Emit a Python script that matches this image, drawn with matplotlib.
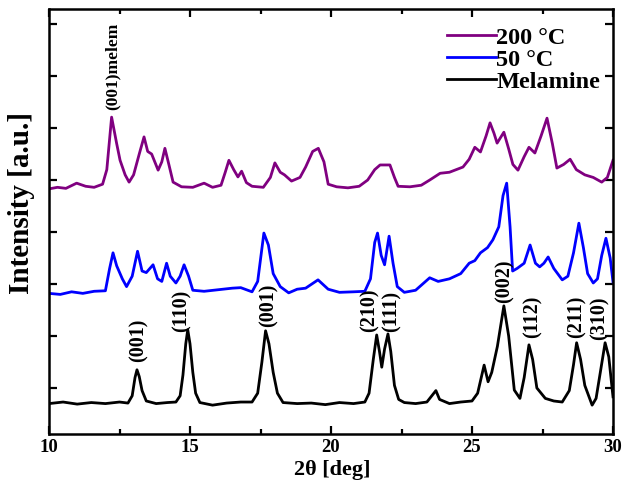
from __future__ import annotations

import matplotlib

matplotlib.use("Agg")
import matplotlib.pyplot as plt
from matplotlib.ticker import MultipleLocator

# XRD patterns (2theta in deg, intensity in tick units)
melamine_2theta = [
    10.0, 10.5, 11.0, 11.5, 12.0, 12.5, 12.8, 12.95, 13.05, 13.12, 13.2, 13.3, 13.45,
    13.8, 14.2, 14.5, 14.65, 14.75, 14.85, 14.92, 15.0, 15.1, 15.2, 15.35, 15.8, 16.3,
    16.8, 17.2, 17.4, 17.55, 17.68, 17.8, 17.95, 18.1, 18.3, 18.8, 19.3, 19.8, 20.3,
    20.8, 21.2, 21.35, 21.5, 21.62, 21.72, 21.8, 21.9, 22.02, 22.12, 22.25, 22.4, 22.6,
    23.0, 23.4, 23.72, 23.85, 24.2, 24.6, 25.0, 25.2, 25.43, 25.57, 25.7, 25.9, 26.13,
    26.3, 26.5, 26.7, 26.85, 27.02, 27.15, 27.3, 27.6, 27.9, 28.2, 28.45, 28.6, 28.71,
    28.85, 29.0, 29.26, 29.4, 29.55, 29.72, 29.85, 30.0,
]
melamine_int = [
    -0.30, -0.27, -0.31, -0.28, -0.30, -0.27, -0.29, -0.15, 0.20, 0.35, 0.22, -0.05, -0.25,
    -0.30, -0.28, -0.27, -0.15, 0.25, 0.85, 1.12, 0.85, 0.30, -0.10, -0.28, -0.33, -0.29,
    -0.27, -0.27, -0.10, 0.50, 1.10, 0.85, 0.30, -0.10, -0.28, -0.30, -0.29, -0.32, -0.28,
    -0.30, -0.27, -0.10, 0.55, 1.02, 0.70, 0.40, 0.75, 1.04, 0.70, 0.05, -0.22, -0.28,
    -0.30, -0.27, -0.05, -0.22, -0.30, -0.27, -0.25, -0.10, 0.44, 0.12, 0.30, 0.80, 1.58,
    1.00, -0.04, -0.20, 0.20, 0.83, 0.55, 0.00, -0.20, -0.25, -0.27, -0.05, 0.45, 0.87,
    0.55, 0.05, -0.33, -0.20, 0.30, 0.87, 0.60, -0.17,
]

c50_2theta = [
    10.0, 10.4, 10.8, 11.2, 11.6, 12.0, 12.15, 12.27, 12.4, 12.6, 12.75, 12.95, 13.14,
    13.3, 13.45, 13.69, 13.85, 14.0, 14.17, 14.3, 14.5, 14.65, 14.79, 14.95, 15.1, 15.5,
    16.0, 16.5, 16.8, 17.2, 17.4, 17.62, 17.78, 17.95, 18.2, 18.5, 18.8, 19.1, 19.54,
    19.9, 20.3, 20.8, 21.2, 21.4, 21.55, 21.65, 21.78, 21.9, 22.06, 22.2, 22.35, 22.6,
    23.0, 23.5, 23.8, 24.2, 24.6, 24.9, 25.1, 25.3, 25.55, 25.74, 25.95, 26.1, 26.23,
    26.35, 26.44, 26.6, 26.85, 27.06, 27.25, 27.4, 27.55, 27.7, 27.9, 28.2, 28.4, 28.6,
    28.79, 28.95, 29.1, 29.3, 29.45, 29.6, 29.75, 29.9, 30.0,
]
c50_int = [
    1.82, 1.80, 1.85, 1.82, 1.86, 1.87, 2.30, 2.60, 2.35, 2.10, 1.95, 2.15, 2.63,
    2.25, 2.22, 2.37, 2.10, 2.05, 2.40, 2.15, 2.02, 2.15, 2.37, 2.15, 1.88, 1.86,
    1.89, 1.92, 1.93, 1.85, 2.05, 2.98, 2.75, 2.20, 1.95, 1.83, 1.90, 1.92, 2.08,
    1.90, 1.84, 1.85, 1.86, 2.10, 2.80, 2.98, 2.55, 2.37, 2.92, 2.40, 1.95, 1.84,
    1.88, 2.12, 2.05, 2.10, 2.20, 2.40, 2.45, 2.60, 2.70, 2.85, 3.10, 3.70, 3.94,
    3.10, 2.25, 2.30, 2.40, 2.75, 2.40, 2.33, 2.40, 2.52, 2.30, 2.08, 2.15, 2.60,
    3.17, 2.70, 2.20, 2.02, 2.10, 2.55, 2.88, 2.50, 2.04,
]

c200_2theta = [
    10.0, 10.3, 10.6, 10.98, 11.3, 11.6, 11.9, 12.05, 12.22, 12.4, 12.52, 12.7, 12.84,
    13.0, 13.2, 13.37, 13.5, 13.64, 13.87, 14.0, 14.11, 14.25, 14.4, 14.7, 15.1, 15.5,
    15.8, 16.1, 16.25, 16.38, 16.55, 16.7, 16.83, 17.0, 17.2, 17.6, 17.85, 18.01, 18.2,
    18.35, 18.6, 18.9, 19.1, 19.35, 19.55, 19.75, 19.9, 20.2, 20.6, 21.0, 21.3, 21.55,
    21.74, 22.09, 22.25, 22.38, 22.8, 23.2, 23.5, 23.87, 24.2, 24.68, 24.9, 25.1, 25.3,
    25.5, 25.64, 25.78, 25.89, 26.13, 26.3, 26.45, 26.63, 26.85, 27.02, 27.23, 27.45,
    27.66, 27.85, 28.01, 28.25, 28.48, 28.7, 29.0, 29.3, 29.6, 29.8, 30.0,
]
c200_int = [
    3.83, 3.86, 3.84, 3.94, 3.88, 3.86, 3.92, 4.20, 5.21, 4.70, 4.38, 4.10, 3.96,
    4.10, 4.50, 4.83, 4.55, 4.50, 4.19, 4.35, 4.61, 4.30, 3.96, 3.87, 3.86, 3.94,
    3.86, 3.90, 4.15, 4.38, 4.20, 4.06, 4.17, 3.95, 3.88, 3.86, 4.05, 4.33, 4.15,
    4.10, 3.98, 4.05, 4.25, 4.55, 4.61, 4.35, 3.92, 3.87, 3.85, 3.88, 4.00, 4.20,
    4.29, 4.29, 4.05, 3.88, 3.87, 3.90, 4.00, 4.13, 4.15, 4.25, 4.40, 4.63, 4.54,
    4.85, 5.10, 4.90, 4.71, 4.92, 4.60, 4.30, 4.19, 4.45, 4.63, 4.52, 4.85,
    5.19, 4.70, 4.23, 4.30, 4.40, 4.20, 4.10, 4.05, 3.96, 4.05, 4.38,
]

peak_labels = ["(001)", "(110)", "(001)", "(210)", "(111)", "(002)", "(112)", "(211)", "(310)"]
peak_label_x = [13.19, 14.72, 17.77, 21.38, 22.16, 26.17, 27.16, 28.72, 29.54]
peak_label_y = [0.50, 1.08, 1.17, 1.08, 1.08, 1.63, 0.96, 0.96, 0.93]

melem_label = "(001)melem"
melem_label_x = 12.25
melem_label_y = 5.35

plt.rcParams["font.family"] = ["Liberation Serif", "DejaVu Serif"]
plt.rcParams["font.weight"] = "bold"


def plot_patterns(output: str) -> None:
    figure = plt.figure(figsize=(6.23, 4.97), dpi=100)
    ax = figure.add_axes([49 / 623, 63 / 497, 564 / 623, 425 / 497])

    ax.plot(c200_2theta, c200_int, color="#800080", lw=2.0, label="200 °C")
    ax.plot(c50_2theta, c50_int, color="#0000ff", lw=2.0, label="50 °C")
    ax.plot(melamine_2theta, melamine_int, color="black", lw=2.0, label="Melamine")

    for text, x, y in zip(peak_labels, peak_label_x, peak_label_y):
        ax.text(x, y, text, rotation=90, ha="center", va="bottom", fontsize=14.5)
    ax.text(melem_label_x, melem_label_y, melem_label, rotation=90, ha="center",
            va="bottom", fontsize=12.5)

    ax.set_xlim(10, 30)
    ax.set_ylim(-0.885, 7.29)
    ax.xaxis.set_major_locator(MultipleLocator(5))
    ax.xaxis.set_minor_locator(MultipleLocator(2.5))
    ax.yaxis.set_major_locator(MultipleLocator(1))
    ax.tick_params(which="both", direction="in", top=True, right=True, width=1.6)
    ax.tick_params(which="major", length=5.5, pad=3.5, labelsize=13.5)
    ax.tick_params(which="minor", length=3.5)
    ax.tick_params(axis="y", labelleft=False)
    for spine in ax.spines.values():
        spine.set_linewidth(1.8)

    figure.text(332 / 623, 1 - 470 / 497, "2θ [deg]", ha="center", va="center",
                fontsize=16)
    figure.text(22 / 623, 1 - 203 / 497, "Intensity [a.u.]", rotation=90, ha="center",
                va="center", fontsize=21)

    ax.legend(loc="upper left", bbox_to_anchor=(0.705, 0.958), frameon=False,
              handlelength=2.05, handletextpad=0.0, labelspacing=0.0, borderpad=0,
              borderaxespad=0, prop={"size": 17.5})

    figure.savefig(output, dpi=100)
    plt.close(figure)
    print(f"Saved {output}")


def main() -> None:
    plot_patterns("out.png")


if __name__ == "__main__":
    main()
